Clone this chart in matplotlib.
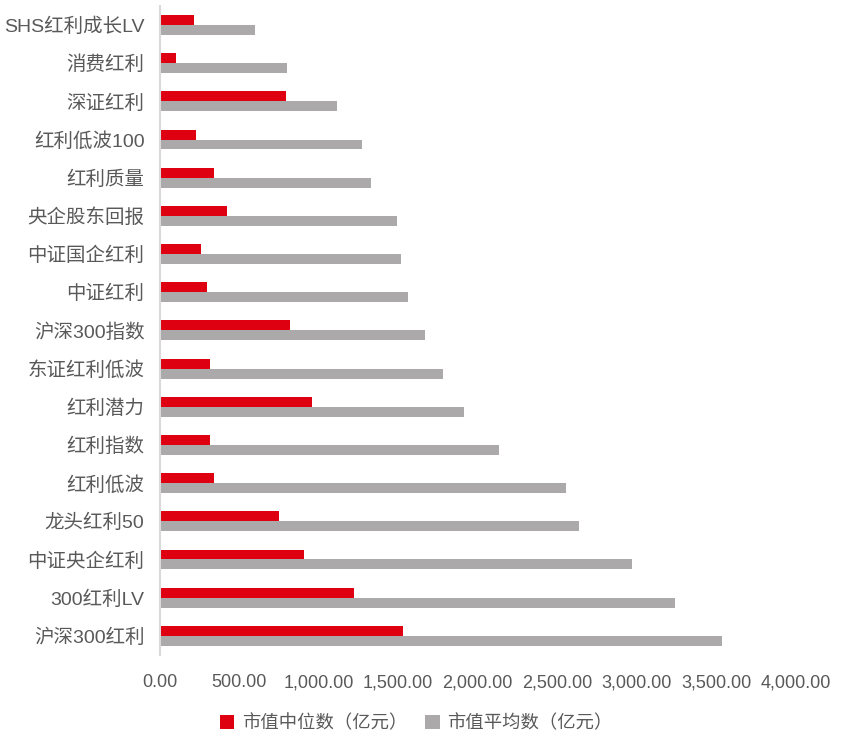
import matplotlib.pyplot as plt
import numpy as np
from matplotlib.ticker import FuncFormatter

plt.rcParams['font.family'] = ['Liberation Sans', 'Noto Sans CJK SC', 'DejaVu Sans']

names = ["SHS红利成长LV", "消费红利", "深证红利", "红利低波100", "红利质量",
         "央企股东回报", "中证国企红利", "中证红利", "沪深300指数", "东证红利低波",
         "红利潜力", "红利指数", "红利低波", "龙头红利50", "中证央企红利",
         "300红利LV", "沪深300红利"]
median = [214, 101, 792, 226, 340, 421, 258, 296, 818, 315,
          957, 315, 340, 749, 909, 1222, 1530]
mean = [597, 803, 1113, 1275, 1327, 1491, 1516, 1560, 1670, 1782,
        1914, 2134, 2555, 2637, 2971, 3242, 3535]

red = '#DE0010'
gray = '#ABA9A9'
txt = '#595959'

fig = plt.figure(figsize=(8.41, 7.40), dpi=100)
ax = fig.add_axes([0.190, 0.115, 0.756, 0.877])

y = np.arange(len(names))
h = 0.26
ax.barh(y - h / 2, median, height=h, color=red, label='市值中位数（亿元）')
ax.barh(y + h / 2, mean, height=h, color=gray, label='市值平均数（亿元）')

ax.set_ylim(len(names) - 0.5, -0.5)
ax.set_xlim(0, 4000)
ax.set_xticks(np.arange(0, 4001, 500))
ax.xaxis.set_major_formatter(FuncFormatter(lambda v, p: '{:,.2f}'.format(v)))
ax.set_yticks(y)
ax.set_yticklabels(names)

for s in ['top', 'right', 'bottom']:
    ax.spines[s].set_visible(False)
ax.spines['left'].set_color('#D9D9D9')
ax.spines['left'].set_linewidth(1.5)

ax.tick_params(axis='x', length=0, pad=14, labelsize=13, labelcolor=txt)
ax.tick_params(axis='y', length=0, pad=11, labelsize=14, labelcolor=txt)

leg = fig.legend(loc='lower center', bbox_to_anchor=(0.495, -0.012), ncol=2, frameon=False,
                 fontsize=13.2, handlelength=0.8, handleheight=0.8, handletextpad=0.4,
                 columnspacing=1.0)
for t in leg.get_texts():
    t.set_color(txt)

plt.savefig('out.png')
